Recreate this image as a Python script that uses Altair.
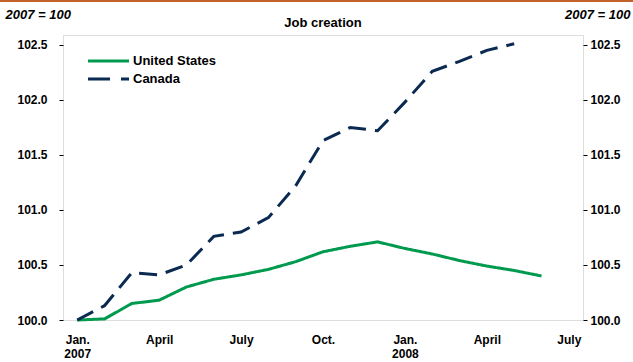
import altair as alt
import pandas as pd

month_idx = list(range(18))
us_values = [100.0, 100.01, 100.15, 100.18, 100.30, 100.37, 100.41, 100.46, 100.53,
             100.62, 100.67, 100.71, 100.65, 100.60, 100.54, 100.49, 100.45, 100.40]
canada_values = [100.0, 100.13, 100.43, 100.41, 100.50, 100.76, 100.80, 100.93, 101.22,
                 101.63, 101.75, 101.72, 101.98, 102.26, 102.35, 102.45, 102.51]
series_names = ["United States", "Canada"]
tick_months = [0, 3, 6, 9, 12, 15, 18]
tick_labels = [["Jan.", "2007"], "April", "July", "Oct.", ["Jan.", "2008"], "April", "July"]
y_ticks = [100.0, 100.5, 101.0, 101.5, 102.0, 102.5]
chart_title = "Job creation"
unit_label = "2007 = 100"

rows = []
for m, v in zip(month_idx, us_values):
    rows.append({"month": m, "value": v, "series": "United States"})
for m, v in zip(month_idx, canada_values):
    rows.append({"month": m, "value": v, "series": "Canada"})
df = pd.DataFrame(rows)

FONT = "Liberation Sans"
GREEN = "#009A4E"
NAVY = "#0B2A52"
colors = [GREEN, NAVY]
dashes = [[1, 0], [18, 9]]

label_expr = "datum.value == 0 ? ['Jan.', '2007'] : datum.value == 3 ? 'April' : datum.value == 6 ? 'July' : datum.value == 9 ? 'Oct.' : datum.value == 12 ? ['Jan.', '2008'] : datum.value == 15 ? 'April' : 'July'"

x_enc = alt.X("month:Q", scale=alt.Scale(domain=[-0.52, 18.52], nice=False, zero=False),
              axis=alt.Axis(values=tick_months, labelExpr=label_expr, ticks=False, domain=False,
                            grid=False, labelPadding=14, labelFont=FONT, labelFontSize=12,
                            labelFontWeight="bold", labelColor="black", labelLineHeight=14,
                            labelAngle=0, title=None, labelFlush=False))
y_scale = alt.Scale(domain=[100, 102.59], nice=False, zero=False)

lines = alt.Chart(df).mark_line(strokeWidth=3).encode(
    x=x_enc,
    y=alt.Y("value:Q", scale=y_scale,
            axis=alt.Axis(values=y_ticks, format=".1f", grid=False, domain=False,
                          tickSize=4, tickColor="black", labelPadding=12,
                          labelFont=FONT, labelFontSize=12, labelFontWeight="bold",
                          labelColor="black", title=unit_label, titleAngle=0,
                          titleAlign="left", titleBaseline="middle", titleX=-58, titleY=-21,
                          titleFont=FONT, titleFontSize=13, titleFontStyle="italic",
                          titleFontWeight="bold", titleColor="black")),
    color=alt.Color("series:N", scale=alt.Scale(domain=series_names, range=colors), legend=None),
    strokeDash=alt.StrokeDash("series:N", scale=alt.Scale(domain=series_names, range=dashes),
                              legend=None),
)

right_axis = alt.Chart(df).mark_line(opacity=0).encode(
    x=alt.X("month:Q", scale=alt.Scale(domain=[-0.52, 18.52], nice=False, zero=False)),
    y=alt.Y("value:Q", scale=y_scale,
            axis=alt.Axis(orient="right", values=y_ticks, format=".1f", grid=False,
                          domain=False, tickSize=4, tickColor="black", labelPadding=3,
                          labelFont=FONT, labelFontSize=12, labelFontWeight="bold",
                          labelColor="black", title=unit_label, titleAngle=0,
                          titleAlign="right", titleBaseline="middle", titleX=47, titleY=-21,
                          titleFont=FONT, titleFontSize=13, titleFontStyle="italic",
                          titleFontWeight="bold", titleColor="black")),
    detail="series:N",
)

top_rule = alt.Chart(df).mark_rule(color="#C0622A", strokeWidth=2).encode(
    x=alt.value(-63), x2=alt.value(571), y=alt.value(-34)
)

title_text = alt.Chart(pd.DataFrame({"t": [chart_title]})).mark_text(
    font=FONT, fontSize=13, fontWeight="bold", color="black", align="center", baseline="middle"
).encode(text="t:N", x=alt.value(260), y=alt.value(-12))

# manual legend (keys + labels)
legend_layers = []
for i, name in enumerate(series_names):
    ly = 26 + 18 * i
    key_df = pd.DataFrame({"series": [name]})
    legend_layers.append(
        alt.Chart(key_df).mark_rule(strokeWidth=3, color=colors[i],
                                    strokeDash=[22, 11] if i == 1 else [1, 0]).encode(
            x=alt.value(25), x2=alt.value(66), y=alt.value(ly))
    )
    legend_layers.append(
        alt.Chart(key_df).mark_text(font=FONT, fontSize=13, fontWeight="bold", color="black",
                                    align="left", baseline="middle").encode(
            text="series:N", x=alt.value(70), y=alt.value(ly))
    )

chart = alt.layer(lines, right_axis, top_rule, title_text, *legend_layers).resolve_scale(
    y="independent").properties(
    width=520, height=285,
    autosize=alt.AutoSizeParams(type="none"),
    padding={"left": 63, "top": 35, "right": 50, "bottom": 42},
).configure_view(stroke="black", strokeWidth=1.5).configure(background="white")

chart.save("out.html", embed_options={"renderer": "svg", "actions": False})
